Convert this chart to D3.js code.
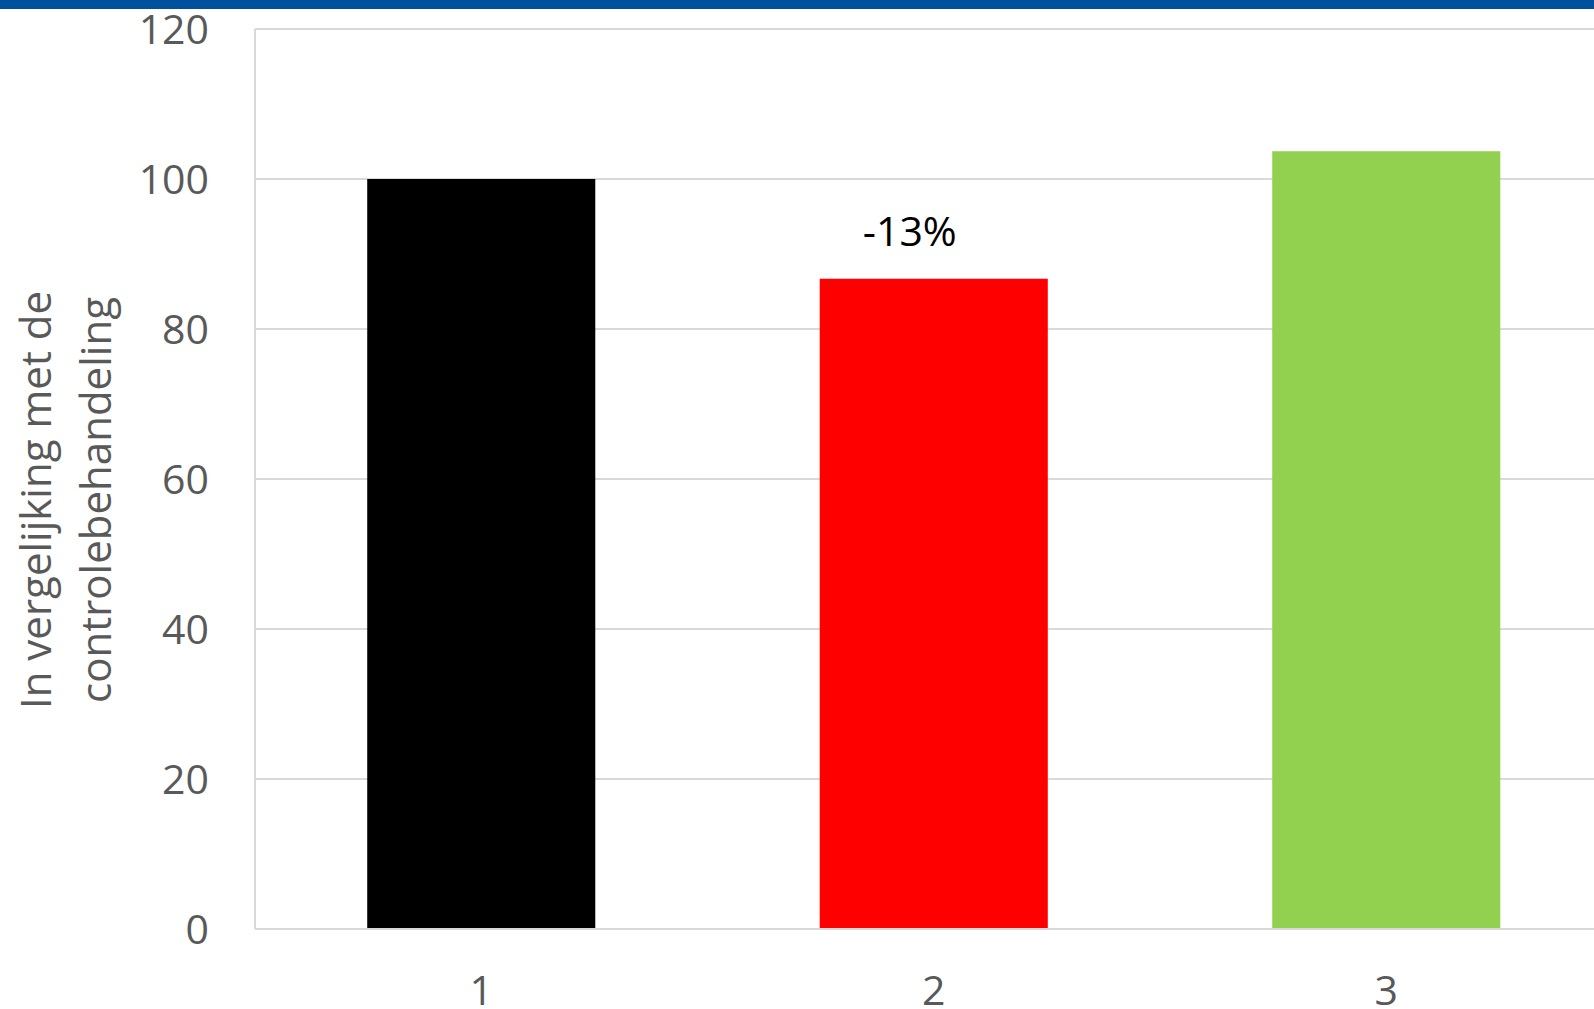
<!DOCTYPE html>
<html>
<head>
<meta charset="utf-8">
<script src="https://cdn.jsdelivr.net/npm/d3@7.9.0/dist/d3.min.js"></script>
<style>
  html, body { margin: 0; padding: 0; background: #fff; }
  svg { display: block; font-family: "Open Sans", sans-serif; }
</style>
</head>
<body>
<div id="chart"></div>
<script>
const categories = ['1', '2', '3'];
const values = [100, 86.7, 103.7];
const barColors = ['#000000', '#ff0000', '#92d050'];
const yTicks = [0, 20, 40, 60, 80, 100, 120];
const barLabels = ['', '-13%', ''];
const yTitle = ['In vergelijking met de', 'controlebehandeling'];

const width = 1594, height = 1009;
const margin = { top: 29, left: 255, bottom: 80 };

const svg = d3.select('#chart')
  .append('svg')
  .attr('width', width)
  .attr('height', height);

// blue band at the top
svg.append('rect')
  .attr('x', 0).attr('y', 0)
  .attr('width', width).attr('height', 9)
  .attr('fill', '#0050a0');

const x = d3.scaleBand()
  .domain(categories)
  .range([margin.left, margin.left + 3 * 452.5])
  .paddingInner(0.496)
  .paddingOuter(0.248);

const y = d3.scaleLinear()
  .domain([0, 120])
  .range([929, margin.top]);

// gridlines
svg.append('g')
  .selectAll('line')
  .data(yTicks)
  .enter()
  .append('line')
  .attr('x1', margin.left)
  .attr('x2', width)
  .attr('y1', d => y(d))
  .attr('y2', d => y(d))
  .attr('stroke', '#d9d9d9')
  .attr('stroke-width', 2);

// left axis line
svg.append('line')
  .attr('x1', margin.left).attr('x2', margin.left)
  .attr('y1', y(120)).attr('y2', y(0))
  .attr('stroke', '#d9d9d9')
  .attr('stroke-width', 2);

// bars
svg.append('g')
  .selectAll('rect')
  .data(values)
  .enter()
  .append('rect')
  .attr('x', (d, i) => x(categories[i]))
  .attr('width', x.bandwidth())
  .attr('y', d => y(d))
  .attr('height', d => y(0) - y(d))
  .attr('fill', (d, i) => barColors[i]);

// baseline over the bars
svg.append('line')
  .attr('x1', margin.left).attr('x2', width)
  .attr('y1', y(0)).attr('y2', y(0))
  .attr('stroke', '#d9d9d9')
  .attr('stroke-width', 2);

// y tick labels
svg.append('g')
  .selectAll('text')
  .data(yTicks)
  .enter()
  .append('text')
  .attr('x', 209)
  .attr('y', d => y(d) + 15)
  .attr('text-anchor', 'end')
  .attr('font-size', 41)
  .attr('fill', '#595959')
  .text(d => d);

// x tick labels
svg.append('g')
  .selectAll('text')
  .data(categories)
  .enter()
  .append('text')
  .attr('x', d => x(d) + x.bandwidth() / 2)
  .attr('y', 1005)
  .attr('text-anchor', 'middle')
  .attr('font-size', 41)
  .attr('fill', '#595959')
  .text(d => d);

// value label
svg.append('g')
  .selectAll('text')
  .data(values)
  .enter()
  .append('text')
  .attr('x', (d, i) => x(categories[i]) + x.bandwidth() / 2 - 24)
  .attr('y', d => y(d) - 33)
  .attr('text-anchor', 'middle')
  .attr('font-size', 41)
  .attr('fill', '#000')
  .text((d, i) => barLabels[i]);

// y axis title
svg.append('g')
  .selectAll('text')
  .data(yTitle)
  .enter()
  .append('text')
  .attr('transform', (d, i) => `translate(${51 + i * 60},500) rotate(-90)`)
  .attr('text-anchor', 'middle')
  .attr('font-size', 42)
  .attr('fill', '#595959')
  .text(d => d);
</script>
</body>
</html>
